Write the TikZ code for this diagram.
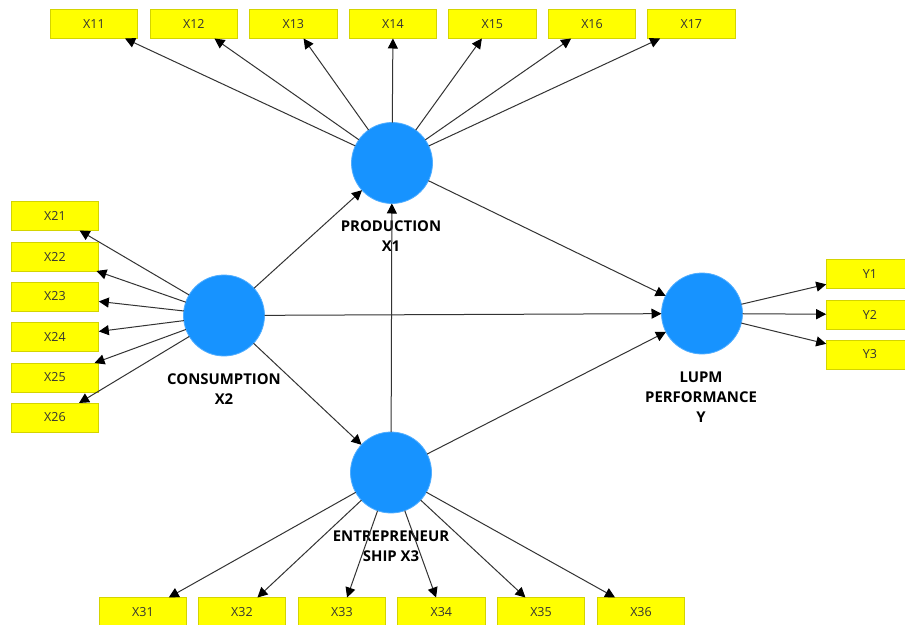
\documentclass[tikz,border=0pt]{standalone}
\usepackage{fontspec}
\setmainfont{Open Sans}
\usetikzlibrary{arrows.meta}
\definecolor{lvblue}{HTML}{1793FF}
\definecolor{mvyellow}{HTML}{FFFF00}
\definecolor{mvedge}{HTML}{D4D400}
\definecolor{lineink}{HTML}{333333}
\tikzset{
  latent/.style={circle,fill=lvblue,draw=lvblue!75!white,line width=0.8pt,minimum size=81pt,inner sep=0pt,outer sep=0pt},
  manifest/.style={rectangle,fill=mvyellow,draw=mvedge,line width=0.8pt,minimum width=87.6pt,minimum height=29pt,inner sep=0pt,outer sep=0pt,font=\fontsize{12.5pt}{15pt}\selectfont,text=black!80},
  lvlabel/.style={align=center,font=\fontsize{14.9pt}{20pt}\selectfont\bfseries,text=black,inner sep=0pt},
  link/.style={draw=lineink,line width=1pt,-{Triangle[length=10pt,width=10pt,fill=black,color=black]}}
}
\begin{document}
\begin{tikzpicture}[x=1pt,y=-1pt]
\clip (0,0) rectangle (905,624);
\fill[white] (0,0) rectangle (905,624);
% latent variables
\node[latent] (x1) at (392,163) {};
\node[latent] (x2) at (224,315.5) {};
\node[latent] (x3) at (391,472.5) {};
\node[latent] (y) at (702,313.5) {};
% labels
\node[lvlabel] (lx1) at (391,236) {PRODUCTION\\X1};
\node[lvlabel] (lx2) at (224,389.5) {CONSUMPTION\\X2};
\node[lvlabel] (lx3) at (391,546) {ENTREPRENEUR\\SHIP X3};
\node[lvlabel] (ly) at (701,397) {LUPM\\PERFORMANCE\\Y};
% indicators: top
\foreach \n/\px in {11/94,12/193.8,13/293.3,14/393,15/492.3,16/592,17/691.3}{
  \node[manifest] (m\n) at (\px,24) {X\n};
  \draw[link] (x1) -- (m\n);
}
% indicators: left
\foreach \n/\py in {21/216,22/256.5,23/296.5,24/337,25/377.5,26/417.5}{
  \node[manifest] (m\n) at (55,\py) {X\n};
  \draw[link] (x2) -- (m\n);
}
% indicators: bottom
\foreach \n/\px in {31/143,32/242,33/342,34/441.3,35/541,36/641}{
  \node[manifest] (m\n) at (\px,612) {X\n};
  \draw[link] (x3) -- (m\n);
}
% indicators: right
\foreach \n/\py in {1/274,2/314.5,3/354.5}{
  \node[manifest] (my\n) at (870,\py) {Y\n};
  \draw[link] (y) -- (my\n);
}
% structural paths
\draw[link] (x2) -- (x1);
\draw[link] (x2) -- (x3);
\draw[link] (x2) -- (y);
\draw[link] (x3) -- (x1);
\draw[link] (x1) -- (y);
\draw[link] (x3) -- (y);
\end{tikzpicture}
\end{document}
